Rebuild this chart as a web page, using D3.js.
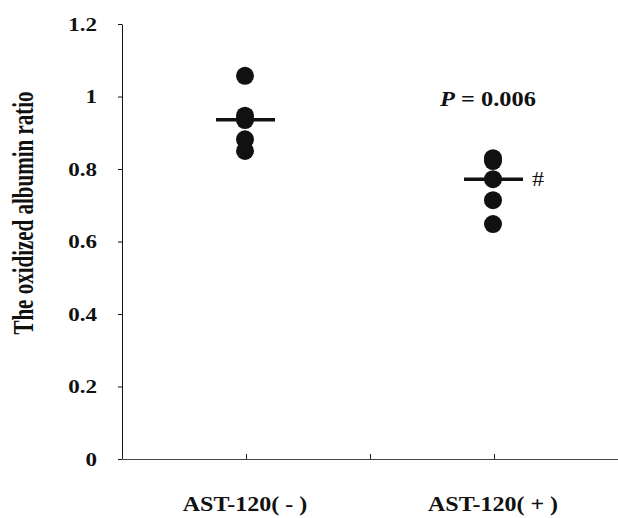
<!DOCTYPE html>
<html>
<head>
<meta charset="utf-8">
<script src="https://cdn.jsdelivr.net/npm/d3@7"></script>
<style>
  body { margin: 0; background: #fff; }
  text { font-family: "Liberation Serif", "Times New Roman", serif; font-weight: bold; fill: #111; }
</style>
</head>
<body>
<div id="chart"></div>
<script>
// values
const groupLabels = ['AST-120( - )', 'AST-120( + )'];
const groupX = [1, 3];
const astMinus = [1.057, 0.947, 0.935, 0.882, 0.850];
const astPlus = [0.830, 0.822, 0.772, 0.714, 0.648];
const groupMeans = [0.936, 0.772];
const yTicks = [0, 0.2, 0.4, 0.6, 0.8, 1, 1.2];
const xTicks = [0, 1, 2, 3, 4];

const width = 618;
const height = 518;
const stretch = 1.25; // text in the figure is drawn wider than it is tall

const svg = d3.select('#chart')
    .append('svg')
    .attr('width', width)
    .attr('height', height);

const xScale = d3.scaleLinear()
    .domain([0, 4])
    .range([122, 618]);

const yScale = d3.scaleLinear()
    .domain([0, 1.2])
    .range([459, 24]);

// y axis
const yAxis = svg.append('g')
    .attr('transform', `translate(${xScale(0)}, 0)`)
    .call(d3.axisLeft(yScale)
        .tickValues(yTicks)
        .tickSizeInner(4)
        .tickSizeOuter(0)
        .tickFormat(d => d3.format('')(d)));

yAxis.select('.domain').attr('stroke', '#111');
yAxis.selectAll('.tick line').attr('stroke', '#111');
yAxis.selectAll('.tick text')
    .attr('x', 0)
    .attr('dy', '0.35em')
    .attr('transform', `translate(-25, 0) scale(${stretch + 0.03}, 1)`)
    .style('font-size', '18px')
    .style('font-family', '"Liberation Serif", serif')
    .style('font-weight', 'bold')
    .attr('fill', '#111')
    .attr('text-anchor', 'end');

// x axis, ticks pointing up
const xAxis = svg.append('g')
    .attr('transform', `translate(0, ${yScale(0)})`)
    .call(d3.axisBottom(xScale)
        .tickValues(xTicks)
        .tickSizeInner(-5)
        .tickSizeOuter(0)
        .tickFormat(''));

xAxis.select('.domain').attr('stroke', '#444');
xAxis.selectAll('.tick line').attr('stroke', '#222');

// category labels
svg.selectAll('.xlabel')
    .data(groupLabels)
    .enter()
    .append('text')
    .attr('class', 'xlabel')
    .attr('transform', (d, i) => `translate(${xScale(groupX[i]) - 1}, 511) scale(${stretch - 0.05}, 1)`)
    .attr('text-anchor', 'middle')
    .style('font-size', '20px')
    .text(d => d);

// y title
svg.append('text')
    .attr('transform', 'translate(33, 213) rotate(-90) scale(1, 1.4)')
    .attr('text-anchor', 'middle')
    .style('font-size', '21px')
    .text('The oxidized albumin ratio');

// points
const groups = [astMinus, astPlus];
groups.forEach((values, gi) => {
    svg.selectAll(`.dot${gi}`)
        .data(values)
        .enter()
        .append('circle')
        .attr('class', `dot${gi}`)
        .attr('cx', xScale(groupX[gi]) - 1)
        .attr('cy', d => yScale(d))
        .attr('r', 9)
        .style('fill', '#111');
});

// mean lines
svg.selectAll('.mean')
    .data(groupMeans)
    .enter()
    .append('line')
    .attr('class', 'mean')
    .attr('x1', (d, i) => xScale(groupX[i]) - 30)
    .attr('x2', (d, i) => xScale(groupX[i]) + 29)
    .attr('y1', d => yScale(d))
    .attr('y2', d => yScale(d))
    .attr('stroke', '#111')
    .attr('stroke-width', 3.5);

// P value
const pText = svg.append('text')
    .attr('transform', `translate(${xScale(3) - 54}, ${yScale(0.975)}) scale(${stretch - 0.03}, 1)`)
    .style('font-size', '20px');
pText.append('tspan').style('font-style', 'italic').text('P');
pText.append('tspan').text(' = 0.006');

// significance mark
svg.append('text')
    .attr('transform', `translate(${xScale(3) + 38}, ${yScale(groupMeans[1]) + 7}) scale(1.15, 1)`)
    .style('font-size', '21px')
    .style('font-weight', 'normal')
    .text('#');
</script>
</body>
</html>
